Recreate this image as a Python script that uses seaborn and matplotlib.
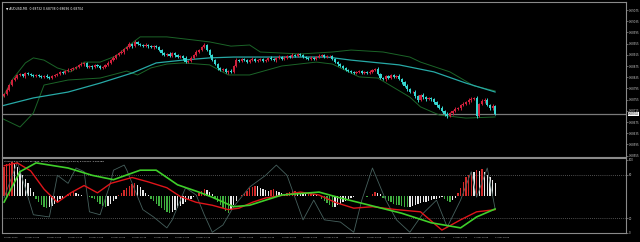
import numpy as np
import pandas as pd
import matplotlib
matplotlib.use("Agg")
import matplotlib.pyplot as plt
import seaborn as sns

# ---------------- data ----------------
first_open = 0.68768
closes = [
    0.68775, 0.68789, 0.68807, 0.68825, 0.68832,
    0.68843, 0.68846, 0.68839, 0.68850, 0.68846, 0.68843, 0.68839, 0.68843, 0.68839, 0.68836, 0.68839, 0.68836, 0.68832,
    0.68839, 0.68843, 0.68846, 0.68854, 0.68850, 0.68857, 0.68861, 0.68864, 0.68868, 0.68871, 0.68879, 0.68882, 0.68886,
    0.68871, 0.68875, 0.68871, 0.68879, 0.68875, 0.68868, 0.68871,
    0.68879, 0.68886, 0.68896, 0.68904, 0.68914, 0.68921, 0.68925, 0.68936, 0.68943, 0.68954,
    0.68946, 0.68961, 0.68954, 0.68950, 0.68946, 0.68950, 0.68946, 0.68943, 0.68946, 0.68943,
    0.68932, 0.68921, 0.68914,
    0.68918, 0.68911, 0.68921, 0.68914, 0.68907, 0.68911, 0.68904, 0.68889, 0.68893,
    0.68904, 0.68914, 0.68925, 0.68932, 0.68943, 0.68950,
    0.68932, 0.68914, 0.68896, 0.68882, 0.68868,
    0.68861, 0.68864, 0.68854, 0.68857, 0.68854,
    0.68875, 0.68896,
    0.68893, 0.68900, 0.68896, 0.68889, 0.68896, 0.68900, 0.68893, 0.68896, 0.68900, 0.68893,
    0.68896, 0.68904, 0.68900, 0.68896, 0.68904, 0.68907, 0.68900, 0.68904, 0.68911,
    0.68907, 0.68914, 0.68911, 0.68918, 0.68914,
    0.68907, 0.68904, 0.68900, 0.68904, 0.68900,
    0.68907, 0.68911, 0.68914, 0.68907, 0.68911, 0.68911,
    0.68900, 0.68889, 0.68882, 0.68875, 0.68868, 0.68861,
    0.68857, 0.68854, 0.68850, 0.68854, 0.68857, 0.68850, 0.68854, 0.68850, 0.68854,
    0.68861, 0.68864,
    0.68846, 0.68832, 0.68829,
    0.68839, 0.68832, 0.68843, 0.68836, 0.68839,
    0.68829, 0.68818, 0.68804, 0.68793, 0.68782,
    0.68782, 0.68768, 0.68754, 0.68771, 0.68764,
    0.68757, 0.68761, 0.68757,
    0.68746, 0.68736, 0.68725, 0.68714,
    0.68704, 0.68696, 0.68707,
    0.68714, 0.68721, 0.68725, 0.68736, 0.68739, 0.68746, 0.68754, 0.68757,
    0.68761, 0.68696, 0.68739, 0.68750, 0.68754, 0.68736, 0.68725, 0.68732, 0.68704,
]
# wick lengths in points (1e-5)
up_wick = [
    4, 6, 3, 5, 7, 3, 4, 2, 5, 3, 4, 3, 5, 2, 4, 3, 6, 2, 4, 3,
    5, 3, 4, 2, 6, 3, 4, 5, 3, 6, 4, 3, 5, 2, 4, 3, 5, 3, 4, 6,
    3, 5, 4, 3, 6, 4, 5, 7, 4, 6, 5, 3, 4, 6, 3, 5, 4, 3, 5, 4,
    3, 4, 6, 3, 5, 4, 3, 4, 6, 3, 5, 4, 6, 3, 5, 7, 4, 3, 5, 3,
    4, 3, 5, 4, 3, 6, 5, 7, 4, 3, 5, 3, 4, 6, 3, 4, 5, 3, 4, 3,
    5, 4, 3, 6, 4, 5, 3, 4, 6, 3, 4, 5, 3, 4, 3, 5, 4, 3, 6, 4,
    3, 5, 4, 3, 4, 3, 5, 4, 3, 4, 5, 3, 4, 3, 5, 4, 3, 6, 5, 3,
    6, 4, 3, 5, 4, 3, 5, 4, 6, 3, 4, 5, 3, 4, 6, 5, 4, 7, 3, 5,
    4, 3, 5, 4, 6, 3, 5, 4, 3, 6, 4, 5, 6, 4, 5, 6, 4, 8, 5, 6,
    5, 6, 4, 7, 5,
]
dn_wick = [
    5, 3, 4, 3, 2, 5, 3, 4, 6, 3, 3, 5, 4, 3, 4, 5, 3, 4, 5, 3,
    4, 3, 5, 3, 4, 3, 5, 3, 4, 5, 6, 4, 3, 5, 4, 5, 3, 4, 3, 5,
    4, 3, 5, 3, 4, 6, 3, 4, 5, 3, 4, 5, 3, 4, 5, 3, 6, 4, 5, 7,
    4, 5, 3, 4, 6, 4, 5, 7, 4, 5, 3, 4, 3, 5, 4, 3, 5, 6, 4, 5,
    6, 4, 5, 3, 6, 4, 3, 5, 4, 3, 4, 5, 3, 4, 3, 5, 4, 3, 5, 4,
    3, 4, 5, 3, 4, 3, 5, 4, 3, 5, 4, 3, 4, 5, 3, 4, 5, 3, 4, 3,
    5, 4, 3, 5, 4, 6, 3, 4, 5, 4, 3, 5, 4, 3, 4, 5, 3, 4, 3, 5,
    4, 3, 5, 6, 4, 5, 3, 4, 5, 6, 5, 6, 4, 5, 6, 7, 5, 6, 8, 5,
    6, 5, 7, 4, 5, 6, 5, 4, 6, 5, 4, 6, 5, 4, 7, 6, 5, 6, 4, 5,
    6, 5, 7, 8, 5,
]

# moving average (cyan) and envelope bands (green), sampled at bar indices
ma_idx = [-1, 11, 24, 36, 48, 57, 67, 77, 86, 98, 121, 130, 148, 161, 173, 184]
ma_val = [0.68732, 0.68761, 0.68782, 0.68814, 0.68850, 0.68886, 0.68896, 0.68904,
          0.68907, 0.68907, 0.68907, 0.68896, 0.68879, 0.68854, 0.68814, 0.68782]
up_idx = [-1, 3, 8, 11, 15, 20, 25, 30, 36, 42, 46, 51, 61, 71, 77, 85, 92, 96,
          111, 123, 130, 142, 152, 156, 167, 176, 184]
up_val = [0.68754, 0.68825, 0.68886, 0.68904, 0.68896, 0.68868, 0.68854, 0.68889,
          0.68889, 0.68911, 0.68943, 0.68979, 0.68979, 0.68968, 0.68961, 0.68946,
          0.68950, 0.68925, 0.68918, 0.68925, 0.68932, 0.68925, 0.68907, 0.68889,
          0.68854, 0.68804, 0.68786]
lo_idx = [-1, 6, 11, 15, 24, 36, 46, 50, 55, 61, 67, 77, 84, 92, 104, 117, 123,
          133, 140, 152, 156, 163, 173, 184]
lo_val = [0.68689, 0.68657, 0.68707, 0.68807, 0.68825, 0.68832, 0.68857, 0.68843,
          0.68868, 0.68882, 0.68886, 0.68879, 0.68843, 0.68843, 0.68875, 0.68889,
          0.68882, 0.68836, 0.68832, 0.68764, 0.68729, 0.68700, 0.68689, 0.68693]

# lower window: histogram around the 50 level and three oscillator lines
hist = [
    40, 44, 46, 47,
    45, 40, 35, 30, 24, 18, 12, 6,
    -3, -7, -11, -14, -16,
    -15, -13, -10, -7, -4, -2,
    1, 3, 5, 6, 5, 4, 2, 1,
    0, -1, -2, -4,
    -7, -10, -13, -15, -13, -10, -6, -3,
    2, 5, 9, 12, 15, 17, 18,
    16, 13, 9, 5, 2,
    -3, -6, -10, -13, -16, -19, -21, -22,
    -21, -19, -16, -13, -10, -7, -5, -3, -1,
    2, 5, 8, 10, 9, 6, 3,
    -4, -8, -12, -16, -20, -22,
    -18, -12, -6,
    0, 2, 5, 8, 11, 13, 15,
    14, 12, 10,
    9, 8, 9, 10, 8, 6, 5, 4, 5, 6,
    7, 8, 6, 5, 4, 3, 4, 5, 3, 2, 0,
    -3, -6, -9, -12, -15, -14, -12, -10, -8, -6, -4, -2,
    -1, 0, 1, 1, 0, -1, 0,
    3, 6, 5, 3,
    -2, -4, -6, -8, -10, -11, -12, -13, -14, -15,
    -14, -13, -12, -10, -9, -8, -7, -6, -5, -4, -3, -2, -1,
    -3, -6, -8, -5, -2,
    5, 12, 20, 26, 30, 34, 33, 36, 35, 37, 34, 30, 26, 22, 18,
]
green_idx = [0, 6, 12, 24, 33, 41, 51, 57, 65, 73, 78, 86, 92, 98, 104, 118, 126,
             137, 149, 160, 171, 177, 184]
green_val = [42, 84, 96, 89, 79, 73, 86, 86, 66, 56, 49, 36, 38, 45, 52, 56, 48,
             38, 27, 14, 7, 22, 33]
red_idx = [0, 5, 10, 15, 20, 25, 30, 35, 40, 48, 54, 61, 66, 72, 78, 84, 88, 93,
           98, 105, 111, 118, 124, 131, 138, 147, 156, 164, 171, 177, 184]
red_val = [92, 96, 85, 60, 42, 55, 65, 55, 68, 76, 70, 62, 50, 42, 38, 32, 34, 42,
           48, 52, 56, 52, 42, 34, 36, 32, 29, 4, 18, 29, 32]
gray_idx = [0, 5, 11, 17, 20, 24, 27, 30, 32, 36, 40, 41, 45, 46, 52, 56, 61, 63,
            68, 72, 75, 78, 82, 86, 92, 98, 102, 106, 112, 116, 120, 126, 131, 134,
            138, 143, 147, 152, 157, 162, 166, 171, 175, 177, 181, 184]
gray_val = [48, 97, 25, 22, 79, 68, 89, 84, 29, 25, 70, 86, 93, 86, 32, 22, 7, 18,
            62, 52, 25, 1, 11, 36, 63, 79, 93, 79, 18, 45, 18, 15, 1, 45,
            89, 45, 18, 1, 27, 45, 8, 45, 84, 49, 89, 32]

price_ticks = [0.69075, 0.69035, 0.68995, 0.68955, 0.68915, 0.68875, 0.68835,
               0.68795, 0.68755, 0.68715, 0.68675, 0.68635, 0.68595, 0.68555]
last_price = 0.68704
sub_ticks = [100, 80, 20, 0]
sub_levels = [80, 20]
time_pos = list(range(0, 185, 8))
time_labels = ["16 Dec 2019", "16 Dec 12:25", "16 Dec 13:05", "16 Dec 13:45",
               "16 Dec 14:25", "16 Dec 15:05", "16 Dec 15:45", "16 Dec 16:25",
               "16 Dec 17:05", "16 Dec 17:45", "16 Dec 18:25", "16 Dec 19:05",
               "16 Dec 19:45", "16 Dec 20:25", "16 Dec 21:05", "16 Dec 21:45",
               "16 Dec 22:25", "16 Dec 23:05", "16 Dec 23:45", "17 Dec 00:25",
               "17 Dec 01:05", "17 Dec 01:45", "17 Dec 02:25", "17 Dec 03:05"]
title_text = "\u25bc AUDUSD,M5  0.68732 0.68738 0.68696 0.68704"
sub_text = "Stoch(5,3,3) 26.7679 35.2596  MACD_Color [Custom] (12,26,9) 0.000036 -0.000183"

# ---------------- styling ----------------
sns.set_style("dark", {"axes.facecolor": "black", "figure.facecolor": "black"})
plt.rcParams["font.family"] = ["DejaVu Sans"]

BULL = "#d0203c"
BEAR = "#35d6d0"
TXT = "#c8c8c8"
FRAME = "#8a8a8a"

W, H = 640, 242
fig = plt.figure(figsize=(6.4, 2.42), dpi=100, facecolor="black")


def rect(l, t, r, b):
    return [l / W, 1 - b / H, (r - l) / W, (b - t) / H]


ax = fig.add_axes(rect(2, 2, 626, 157))
axs = fig.add_axes(rect(2, 158, 626, 233))
XL = ((2 - 4) / 2.67, (626 - 4) / 2.67)

# ---------------- candles ----------------
n = len(closes)
df = pd.DataFrame({"i": np.arange(n), "open": [first_open] + closes[:-1], "close": closes})
df["high"] = df[["open", "close"]].max(axis=1) + np.array(up_wick) * 1e-5
df["low"] = df[["open", "close"]].min(axis=1) - np.array(dn_wick) * 1e-5
col = np.where(df["close"] >= df["open"], BULL, BEAR)
ax.vlines(df["i"], df["low"], df["high"], colors=col, lw=0.7, zorder=3)
body = (df["close"] - df["open"]).to_numpy()
body = np.where(np.abs(body) < 1.5e-5, 1.5e-5, body)
ax.bar(df["i"], body, bottom=df["open"], width=0.8, color=col, lw=0, zorder=4)

sns.lineplot(x=up_idx, y=up_val, ax=ax, color="#1b6428", lw=0.7, zorder=2)
sns.lineplot(x=lo_idx, y=lo_val, ax=ax, color="#1b6428", lw=0.7, zorder=2)
sns.lineplot(x=ma_idx, y=ma_val, ax=ax, color="#27a9a6", lw=0.9, zorder=2)

ax.axhline(last_price, color="#7a7a7a", lw=0.9, zorder=1)
ax.set_xlim(*XL)
ax.set_ylim(0.685500, 0.691036)
ax.set_xticks([])
ax.yaxis.tick_right()
ax.set_yticks(price_ticks)
ax.set_yticklabels([f"{p:.5f}" for p in price_ticks])
ax.tick_params(axis="y", length=1.5, width=0.5, color=FRAME, labelsize=1.9,
               labelcolor=TXT, pad=0.8)
ax.annotate(f"{last_price:.5f}", xy=(1.0, last_price), xycoords=("axes fraction", "data"),
            xytext=(1.6, 0), textcoords="offset points", fontsize=1.9, color="black",
            va="center", ha="left",
            bbox=dict(boxstyle="square,pad=0.12", fc="white", ec="white", lw=0))
ax.text(0.006, 0.955, title_text, transform=ax.transAxes, fontsize=2.2, color="white",
        va="center", ha="left")

# ---------------- lower window ----------------
hcol = []
for k, v in enumerate(hist):
    prev = hist[k - 1] if k > 0 else v
    if v >= 0:
        hcol.append("#d42a2a" if v >= prev else "#e8e8e8")
    else:
        hcol.append("#3fae3f" if v <= prev else "#e8e8e8")
axs.bar(np.arange(len(hist)), hist, bottom=50, width=0.5, color=hcol, lw=0, zorder=2)

for lv in sub_levels:
    axs.axhline(lv, color="#6a6a6a", lw=0.6, ls=(0, (1, 1.5)), zorder=1)

sns.lineplot(x=gray_idx, y=gray_val, ax=axs, color="#46605d", lw=0.6, zorder=3)
sns.lineplot(x=red_idx, y=red_val, ax=axs, color="#e0151a", lw=1.0, zorder=4)
sns.lineplot(x=green_idx, y=green_val, ax=axs, color="#3fcf2a", lw=1.2, zorder=5)

axs.set_xlim(*XL)
axs.set_ylim(0, 102.7)
axs.yaxis.tick_right()
axs.set_yticks(sub_ticks)
axs.set_yticklabels([str(t) for t in sub_ticks])
axs.tick_params(axis="y", length=1.5, width=0.5, color=FRAME, labelsize=1.9,
                labelcolor=TXT, pad=0.8)
axs.set_xticks(time_pos)
axs.set_xticklabels(time_labels)
axs.tick_params(axis="x", length=2, width=0.5, color=FRAME, labelsize=1.5,
                labelcolor=TXT, pad=0.8)
for lbl in axs.get_xticklabels():
    lbl.set_ha("left")
axs.text(0.004, 0.96, sub_text, transform=axs.transAxes, fontsize=1.7, color="white",
         va="center", ha="left")

for a in (ax, axs):
    a.set_xlabel("")
    a.set_ylabel("")
    a.grid(False)
    for s in a.spines.values():
        s.set_visible(True)
        s.set_color(FRAME)
        s.set_linewidth(0.8)

fig.savefig("out.png", dpi=100, facecolor="black")
